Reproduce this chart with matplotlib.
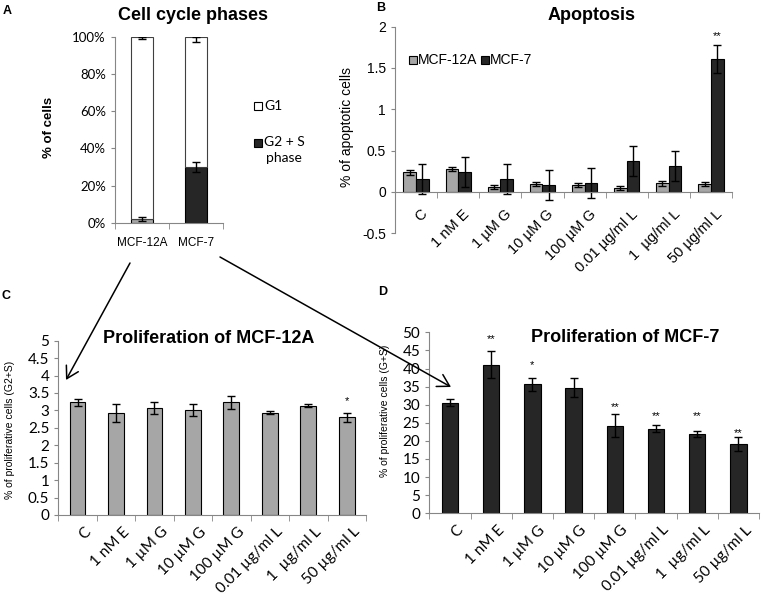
import numpy as np
import matplotlib
matplotlib.use("Agg")
import matplotlib.pyplot as plt
from matplotlib.patches import Rectangle, FancyArrowPatch
from matplotlib.transforms import ScaledTranslation

W, H = 764, 598

# --- data ---
cycle_lines = ["MCF-12A", "MCF-7"]
g2s_pct = [2.1, 29.9]
g2s_err = [1.0, 2.6]
g1_err_low = [1.2, 2.6]   # error bar hanging below the 100 % top

treatments = ["C", "1 nM E", "1 µM G", "10 µM G", "100 µM G",
              "0.01 µg/ml L", "1  µg/ml L", "50 µg/ml L"]

apop_12a = [0.24, 0.28, 0.056, 0.097, 0.08, 0.052, 0.105, 0.093]
apop_12a_err = [0.03, 0.025, 0.025, 0.025, 0.025, 0.025, 0.03, 0.025]
apop_7 = [0.153, 0.24, 0.153, 0.085, 0.107, 0.37, 0.31, 1.61]
apop_7_err = [0.18, 0.18, 0.18, 0.18, 0.18, 0.18, 0.18, 0.17]
apop_7_sig = ["", "", "", "", "", "", "", "**"]
apop_7_sig_y = [0, 0, 0, 0, 0, 0, 0, 1.94]

prolif_12a = [3.23, 2.93, 3.08, 3.01, 3.23, 2.94, 3.14, 2.80]
prolif_12a_err = [0.10, 0.25, 0.17, 0.16, 0.18, 0.03, 0.04, 0.12]
prolif_12a_sig = ["", "", "", "", "", "", "", "*"]
prolif_12a_sig_y = [0, 0, 0, 0, 0, 0, 0, 3.39]

prolif_7 = [30.6, 41.1, 35.7, 34.7, 24.2, 23.4, 21.9, 19.2]
prolif_7_err = [1.0, 3.6, 1.8, 2.7, 3.2, 1.0, 0.8, 2.0]
prolif_7_sig = ["", "**", "*", "", "**", "**", "**", "**"]
prolif_7_sig_y = [0, 49.4, 42.2, 0, 30.4, 28.0, 28.0, 23.2]

# --- style ---
ARIAL = "Liberation Sans"
CALIBRI = "Lato"
GRAY = "#a6a6a6"
DARK = "#262626"
AXIS = "#868686"

fig = plt.figure(figsize=(W / 100, H / 100), dpi=100)


def px_axes(left, right, top, bottom):
    return fig.add_axes([left / W, 1 - bottom / H, (right - left) / W, (bottom - top) / H])


def fx(x):
    return x / W


def fy(y):
    return 1 - y / H


def excel_axes(ax, n):
    for s in ["top", "right"]:
        ax.spines[s].set_visible(False)
    for s in ["left", "bottom"]:
        ax.spines[s].set_color(AXIS)
    ax.set_xlim(-0.5, n - 0.5)
    ax.set_xticks(range(n))
    ax.set_xticks(np.arange(-0.5, n), minor=True)
    ax.tick_params(axis="x", which="major", length=0)
    ax.tick_params(axis="x", which="minor", length=4, color=AXIS)
    ax.tick_params(axis="y", length=3, color=AXIS)


def slanted_labels(ax, labels, family, size, pad, shift_px):
    ax.set_xticklabels(labels, rotation=45, ha="right", va="top", rotation_mode="anchor",
                       family=family, fontsize=size)
    ax.tick_params(axis="x", pad=pad)
    shift = ScaledTranslation(shift_px / 100, 0, fig.dpi_scale_trans)
    for lab in ax.get_xticklabels():
        lab.set_transform(lab.get_transform() + shift)


def stars(ax, xs, labels, ys, size):
    for x, s, y in zip(xs, labels, ys):
        if s:
            ax.annotate(s, (x, y), xytext=(0, -3), textcoords="offset points",
                        ha="center", va="center", fontsize=size, family=ARIAL)


err_kw = dict(fmt="none", ecolor="black", elinewidth=1, capsize=3, capthick=1)

# ---------------- A: cell cycle phases ----------------
axA = px_axes(115, 223, 36.7, 223)
xa = np.arange(len(cycle_lines))
g1 = [100 - v for v in g2s_pct]
axA.bar(xa, g2s_pct, 0.4, color=[GRAY, DARK], edgecolor="black", linewidth=0.8)
axA.bar(xa, g1, 0.4, bottom=g2s_pct, color="white", edgecolor="#404040", linewidth=0.8)
axA.errorbar(xa, g2s_pct, yerr=g2s_err, **err_kw)
axA.errorbar(xa, [100, 100], yerr=[g1_err_low, [0, 0]], **err_kw)
excel_axes(axA, 2)
axA.set_ylim(0, 100)
axA.set_yticks(range(0, 101, 20))
axA.set_yticklabels([f"{v}%" for v in range(0, 101, 20)], family=CALIBRI, fontsize=9.5)
axA.set_xticklabels(cycle_lines, family=ARIAL, fontsize=8.5)
axA.tick_params(axis="x", pad=10)
fig.text(fx(49), fy(127), "% of cells", rotation=90, ha="center", va="center",
         family=ARIAL, fontweight="bold", fontsize=9.5)
fig.text(fx(192.5), fy(20), "Cell cycle phases", ha="center", va="baseline",
         family=ARIAL, fontweight="bold", fontsize=13)

# legend of A
fig.add_artist(Rectangle((fx(254), fy(110)), 8 / W, 8 / H, transform=fig.transFigure,
                         facecolor="white", edgecolor="black", linewidth=0.8))
fig.text(fx(264), fy(106), "G1", ha="left", va="center", family=CALIBRI, fontsize=10)
fig.add_artist(Rectangle((fx(254), fy(147)), 8 / W, 8 / H, transform=fig.transFigure,
                         facecolor=DARK, edgecolor="black", linewidth=0.8))
fig.text(fx(264), fy(142), "G2 + S", ha="left", va="center", family=CALIBRI, fontsize=10)
fig.text(fx(284), fy(158), "phase", ha="center", va="center", family=CALIBRI, fontsize=10)

# ---------------- B: apoptosis ----------------
axB = px_axes(395, 732, 26.6, 233.3)
xb = np.arange(len(treatments))
axB.bar(xb - 0.15, apop_12a, 0.3, color=GRAY, edgecolor="black", linewidth=0.8)
axB.bar(xb + 0.15, apop_7, 0.3, color=DARK, edgecolor="black", linewidth=0.8)
axB.errorbar(xb - 0.15, apop_12a, yerr=apop_12a_err, **err_kw)
axB.errorbar(xb + 0.15, apop_7, yerr=apop_7_err, **err_kw)
excel_axes(axB, len(treatments))
axB.spines["bottom"].set_position(("data", 0))
axB.set_ylim(-0.5, 2)
axB.set_yticks([-0.5, 0, 0.5, 1, 1.5, 2])
axB.set_yticklabels(["-0.5", "0", "0.5", "1", "1.5", "2"], family=ARIAL, fontsize=10)
slanted_labels(axB, treatments, ARIAL, 10.5, 11, 4)
stars(axB, xb + 0.15, apop_7_sig, apop_7_sig_y, 8)
fig.text(fx(347), fy(127), "% of apoptotic cells", rotation=90, ha="center", va="center",
         family=ARIAL, fontsize=10)
fig.text(fx(591.5), fy(20), "Apoptosis", ha="center", va="baseline",
         family=ARIAL, fontweight="bold", fontsize=13)
fig.add_artist(Rectangle((fx(409), fy(64)), 8 / W, 8 / H, transform=fig.transFigure,
                         facecolor=GRAY, edgecolor="black", linewidth=0.8))
fig.text(fx(418), fy(60), "MCF-12A", ha="left", va="center", family=ARIAL, fontsize=10)
fig.add_artist(Rectangle((fx(481), fy(64)), 8 / W, 8 / H, transform=fig.transFigure,
                         facecolor=DARK, edgecolor="black", linewidth=0.8))
fig.text(fx(490), fy(60), "MCF-7", ha="left", va="center", family=ARIAL, fontsize=10)

# ---------------- C: proliferation of MCF-12A ----------------
axC = px_axes(58.3, 366, 340.7, 515)
axC.bar(xb, prolif_12a, 0.41, color=GRAY, edgecolor="black", linewidth=0.8)
axC.errorbar(xb, prolif_12a, yerr=prolif_12a_err, **err_kw)
excel_axes(axC, len(treatments))
axC.set_ylim(0, 5)
axC.set_yticks(np.arange(0, 5.01, 0.5))
axC.set_yticklabels(["0", "0.5", "1", "1.5", "2", "2.5", "3", "3.5", "4", "4.5", "5"],
                    family=CALIBRI, fontsize=11)
slanted_labels(axC, treatments, CALIBRI, 11, 7, 6)
stars(axC, xb, prolif_12a_sig, prolif_12a_sig_y, 8)
fig.text(fx(10), fy(430), "% of proliferative cells (G2+S)", rotation=90, ha="center",
         va="center", family=ARIAL, fontsize=7.5)
fig.text(fx(209), fy(343), "Proliferation of MCF-12A", ha="center", va="baseline",
         family=ARIAL, fontweight="bold", fontsize=13)

# ---------------- D: proliferation of MCF-7 ----------------
axD = px_axes(429.3, 759, 332.3, 513.3)
axD.bar(xb, prolif_7, 0.4, color=DARK, edgecolor="black", linewidth=0.8)
axD.errorbar(xb, prolif_7, yerr=prolif_7_err, **err_kw)
excel_axes(axD, len(treatments))
axD.set_ylim(0, 50)
axD.set_yticks(range(0, 51, 5))
axD.set_yticklabels([str(v) for v in range(0, 51, 5)], family=CALIBRI, fontsize=11)
slanted_labels(axD, treatments, CALIBRI, 11, 7, 6)
stars(axD, xb, prolif_7_sig, prolif_7_sig_y, 8)
fig.text(fx(385), fy(411), "% of proliferative cells (G+S)", rotation=90, ha="center",
         va="center", family=ARIAL, fontsize=7.5)
fig.text(fx(625.5), fy(341.7), "Proliferation of MCF-7", ha="center", va="baseline",
         family=ARIAL, fontweight="bold", fontsize=13)

# --- panel letters ---
for letter, x, y in [("A", 7, 11), ("B", 381, 8), ("C", 6.5, 296), ("D", 383, 292)]:
    fig.text(fx(x), fy(y), letter, ha="center", va="center", family=ARIAL,
             fontweight="bold", fontsize=9)

# --- zoom arrows from panel A to C and D ---
for start, end in [((130, 263), (66, 380)), ((220, 257), (451, 387))]:
    fig.add_artist(FancyArrowPatch((fx(start[0]), fy(start[1])), (fx(end[0]), fy(end[1])),
                                   transform=fig.transFigure,
                                   arrowstyle="->,head_length=0.6,head_width=0.35",
                                   mutation_scale=14, color="black", linewidth=1.1,
                                   shrinkA=0, shrinkB=0))

fig.savefig("out.png", dpi=100)
